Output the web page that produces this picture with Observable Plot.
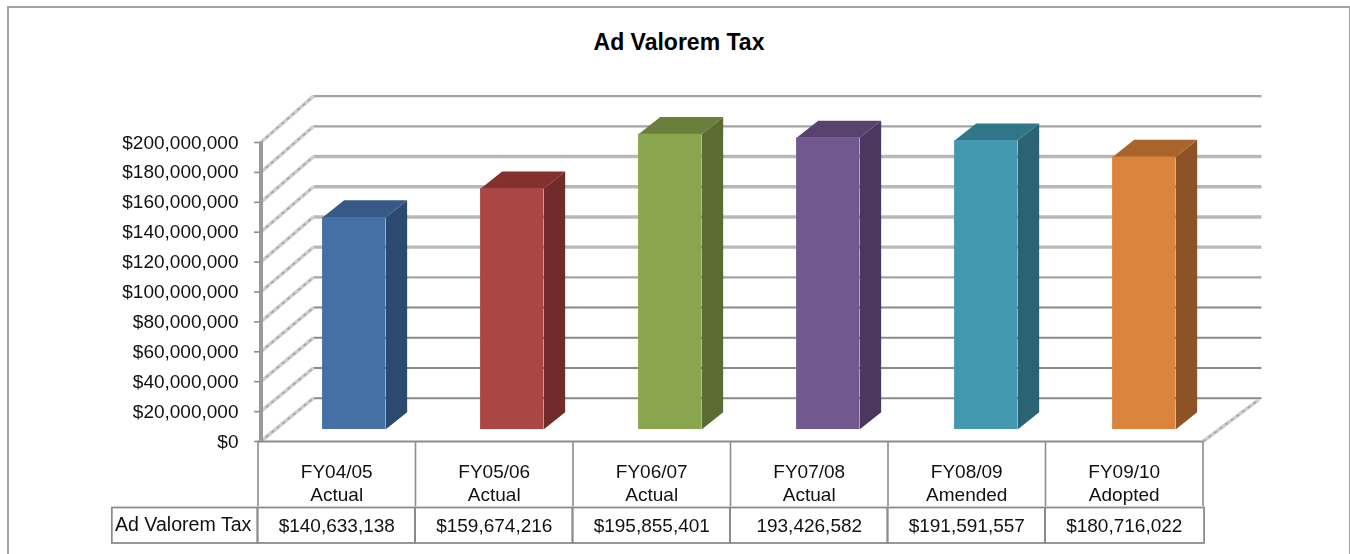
<!DOCTYPE html>
<html>
<head>
<meta charset="utf-8">
<script src="https://cdn.jsdelivr.net/npm/d3@7"></script>
<script src="https://cdn.jsdelivr.net/npm/@observablehq/plot@0.6"></script>
<style>
html,body{margin:0;padding:0;background:#fff;}
#wrap{position:relative;width:1350px;height:554px;overflow:hidden;font-family:"Liberation Sans",Arial,sans-serif;}
#border{position:absolute;left:7px;top:6px;width:1340px;height:560px;border:2px solid #a3a3a3;box-sizing:content-box;}
#title{position:absolute;left:0;width:1358px;top:28.5px;text-align:center;font:bold 23px "Liberation Sans",Arial,sans-serif;color:#000;}
#chart{position:absolute;left:0;top:0;filter:blur(0.4px);}
</style>
</head>
<body>
<div id="wrap">
  <div id="border"></div>
  <div id="chart"></div>
  <div id="title">Ad Valorem Tax</div>
</div>
<script>
const categories = ["FY04/05\nActual","FY05/06\nActual","FY06/07\nActual","FY07/08\nActual","FY08/09\nAmended","FY09/10\nAdopted"];
const values = [140633138,159674216,195855401,193426582,191591557,180716022];
const valueLabels = ["$140,633,138","$159,674,216","$195,855,401","193,426,582","$191,591,557","$180,716,022"];
const frontColors = ["#4470a6","#aa4643","#89a54e","#71588f","#4198af","#db843d"];
const sideColors  = ["#2c4a6f","#702b2a","#5a6c32","#4a3860","#2a6373","#8c5426"];
const topColors   = ["#365a85","#84302e","#6a7f3c","#58436f","#317688","#a9642c"];
const axisTicks = d3.range(0,200000001,20000000);
const upperGrid = [200000000,180000000,80000000];
const paleGrid = [160000000,140000000,120000000,100000000];
const lowerGrid = [60000000,40000000,20000000,0];

// 3-D projection constants, in data units
const wallDX = 0.352, wallEndX = 6.371, wallDV = 29e6, wallScale = 1.01;
const barStart = 0.41, barStep = 1.0032, barW = 0.40, barDepthX = 0.137, barDepthV = 11.5e6;
const barBase = 8e6, barScale = 1.0087;
const tableLine = "#8c8c8c";

const wallY = v => v * wallScale + wallDV;
const bars = values.map((v,i) => {
  const x1 = i*barStep + barStart, x2 = x1 + barW, y1 = barBase, y2 = barBase + v*barScale;
  return {i, x1, x2, y1, y2, front: frontColors[i], side: sideColors[i], top: topColors[i]};
});
const poly = (b, id, color, pts) => pts.map(([x,y]) => ({id: id + b.i, color, x, y}));
const sides = bars.flatMap(b => poly(b,"s",b.side,[[b.x2,b.y1],[b.x2+barDepthX,b.y1+barDepthV],[b.x2+barDepthX,b.y2+barDepthV],[b.x2,b.y2]]));
const tops = bars.flatMap(b => poly(b,"t",b.top,[[b.x1,b.y2],[b.x2,b.y2],[b.x2+barDepthX,b.y2+barDepthV],[b.x1+barDepthX,b.y2+barDepthV]]));
const centers = categories.map((c,i) => i + 0.5);
const edges = d3.range(0, categories.length + 1);
const cells = [{x1:-0.925,x2:0}].concat(categories.map((c,i)=>({x1:i,x2:i === categories.length-1 ? i+1.01 : i+1})));

const plot = Plot.plot({
  width: 1350, height: 554,
  marginLeft: 257.5, marginRight: 147.5, marginTop: 142, marginBottom: 113,
  x: {domain:[0,6]},
  y: {domain:[0,200000000]},
  color: {type:"identity"},
  style: {fontFamily:'"Liberation Sans",Arial,sans-serif', background:"transparent", color:"#000"},
  marks: [
    // back wall grid lines
    Plot.link(upperGrid,{x1:wallDX,x2:wallEndX,y1:wallY,y2:wallY,stroke:"#a4a4a4",strokeWidth:2.4}),
    Plot.link(paleGrid,{x1:wallDX,x2:wallEndX,y1:wallY,y2:wallY,stroke:"#b8b8b8",strokeWidth:3.4}),
    Plot.link(lowerGrid,{x1:wallDX,x2:wallEndX,y1:wallY,y2:wallY,stroke:"#8a8a8a",strokeWidth:2}),
    // side wall diagonals: a pale band with a mottled darker centre
    Plot.link(axisTicks,{x1:0.017,x2:wallDX,y1:d=>d,y2:wallY,stroke:"#cfcfcf",strokeWidth:3.6}),
    Plot.link(axisTicks,{x1:0.017,x2:wallDX,y1:d=>d,y2:wallY,stroke:"#a0a0a0",strokeWidth:1.5,strokeDasharray:"3 4"}),
    // floor edge on the right
    Plot.link([0],{x1:6,x2:6.355,y1:0,y2:wallY(0)-1e6,stroke:"#cfcfcf",strokeWidth:3.6}),
    Plot.link([0],{x1:6,x2:6.355,y1:0,y2:wallY(0)-1e6,stroke:"#a0a0a0",strokeWidth:1.5,strokeDasharray:"3 4"}),
    // front floor line
    Plot.ruleY([0],{x1:0,x2:6,stroke:"#8c8c8c",strokeWidth:2}),
    // bars
    Plot.line(sides,{x:"x",y:"y",z:"id",fill:"color",stroke:"none"}),
    Plot.line(tops,{x:"x",y:"y",z:"id",fill:"color",stroke:"none"}),
    Plot.rect(bars,{x1:"x1",x2:"x2",y1:"y1",y2:"y2",fill:"front"}),
    // y axis
    Plot.ruleX([0],{y1:0,y2:200000000,dx:3,stroke:"#9a9a9a",strokeWidth:4}),
    Plot.axisY({ticks:axisTicks,label:null,tickSize:6,tickPadding:16,dx:2.5,fontSize:19,fill:"#111",stroke:"#8c8c8c",strokeWidth:1.6,
      tickFormat:d=>"$"+d3.format(",")(d)}),
    // data table
    Plot.ruleX(edges,{insetTop:299,insetBottom:-65,stroke:tableLine,strokeWidth:1.6}),
    Plot.rect(cells,{x1:"x1",x2:"x2",insetTop:365.5,insetBottom:-102,fill:"none",stroke:tableLine,strokeWidth:1.8}),
    Plot.axisX({ticks:centers,label:null,tickSize:0,tickPadding:19,fontSize:19,lineHeight:1.26,fill:"#111",
      tickFormat:d=>categories[Math.floor(d)]}),
    Plot.text(valueLabels,{x:(d,i)=>centers[i],frameAnchor:"bottom",dy:84,lineAnchor:"middle",fontSize:19,fill:"#111"}),
    Plot.text(["Ad Valorem Tax"],{x:-0.4625,frameAnchor:"bottom",dy:83,lineAnchor:"middle",dx:-2,fontSize:19.6,fill:"#111"})
  ]
});
document.getElementById("chart").appendChild(plot);
</script>
</body>
</html>
